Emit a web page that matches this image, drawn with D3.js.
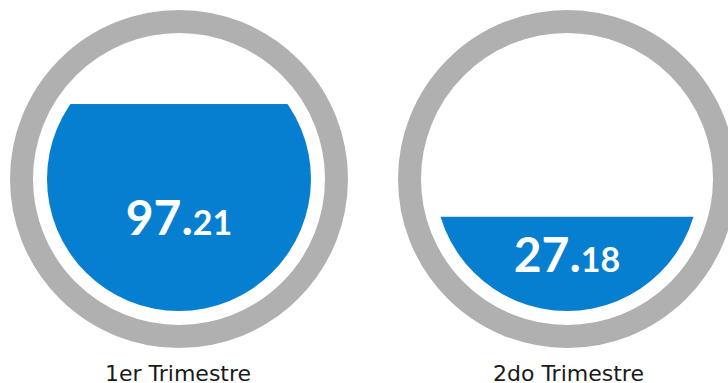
<!DOCTYPE html>
<html>
<head>
<meta charset="utf-8">
<script src="https://cdn.jsdelivr.net/npm/d3@7"></script>
<style>
  html, body { margin: 0; padding: 0; background: #fff; }
  svg { display: block; }
</style>
</head>
<body>
<div id="gauges"></div>
<script>
// quarter labels and the value shown in each gauge
const quarters = ['1er Trimestre', '2do Trimestre'];
const values = [97.21, 27.18];
// how far each gauge is filled (% of the inner circle height)
const fillLevels = [78.4, 35.7];

const width = 728;
const height = 383;
const cy = 179;
const outerR = 169;
const ringWidth = 23;
const fillR = 132;

const svg = d3.select('#gauges')
    .append('svg')
    .attr('width', width)
    .attr('height', height);

const xScale = d3.scalePoint()
    .domain(quarters)
    .range([179, 567]);

const levelScale = d3.scaleLinear()
    .domain([0, 100])
    .range([cy + fillR, cy - fillR]);

const fmt = d3.format('.2f');

const data = quarters.map((q, i) => ({name: q, value: values[i], level: fillLevels[i], idx: i}));

const gauge = svg.selectAll('.gauge')
    .data(data)
    .enter().append('g')
    .attr('class', 'gauge')
    .attr('transform', d => `translate(${xScale(d.name)},0)`);

// clip for the liquid
svg.append('defs').selectAll('clipPath')
    .data(data)
    .enter().append('clipPath')
    .attr('id', d => 'clip' + d.idx)
    .append('circle')
    .attr('cx', 0)
    .attr('cy', cy)
    .attr('r', fillR);

gauge.append('circle')
    .attr('cx', 0)
    .attr('cy', cy)
    .attr('r', outerR - ringWidth / 2)
    .attr('fill', 'none')
    .attr('stroke', '#b0b0b0')
    .attr('stroke-width', ringWidth);

gauge.append('rect')
    .attr('clip-path', d => `url(#clip${d.idx})`)
    .attr('x', -fillR)
    .attr('width', fillR * 2)
    .attr('y', d => levelScale(d.level))
    .attr('height', d => cy + fillR - levelScale(d.level))
    .attr('fill', '#077fd0');

// value sits lower in the liquid as the level drops
const valueY = d => cy + 80.6 + 0.327 * (levelScale(d.level) - cy);

const valText = gauge.append('text')
    .attr('x', 0)
    .attr('y', valueY)
    .attr('text-anchor', 'middle')
    .attr('fill', '#fff')
    .style('font-family', 'Lato, sans-serif')
    .style('font-weight', 700);

valText.append('tspan')
    .style('font-size', '48px')
    .text(d => fmt(d.value).split('.')[0] + '.');

valText.append('tspan')
    .style('font-size', '34px')
    .text(d => fmt(d.value).split('.')[1]);

gauge.append('text')
    .attr('x', -74)
    .attr('y', 381)
    .attr('text-anchor', 'start')
    .attr('fill', '#1a1a1a')
    .style('font-family', '"DejaVu Sans", sans-serif')
    .style('font-size', '22px')
    .text(d => d.name);
</script>
</body>
</html>
